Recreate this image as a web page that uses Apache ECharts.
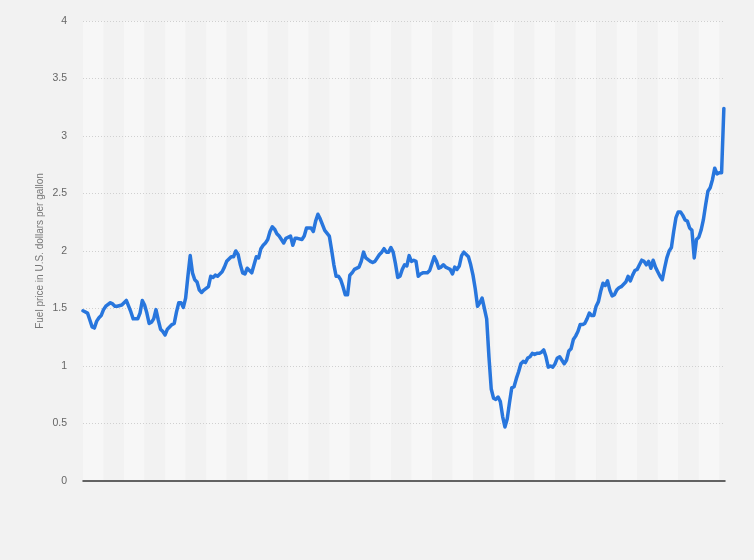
<!DOCTYPE html>
<html>
<head>
<meta charset="utf-8">
<script src="https://cdn.jsdelivr.net/npm/echarts@6/dist/echarts.min.js"></script>
<style>
html,body{margin:0;padding:0;background:#f2f2f2;}
#chart{width:754px;height:560px;}
</style>
</head>
<body>
<div id="chart"></div>
<script>
// Week index since start of series
const weeks = [0,2,3,4,5,6,7,8,9,10,12,13,14,15,17,18,19,20,21,22,24,25,26,27,28,29,30,31,32,33,34,35,36,37,39,40,41,42,43,44,45,46,47,48,49,50,51,52,53,55,56,57,58,59,60,61,62,63,65,66,67,68,69,70,71,72,73,74,75,76,77,78,79,80,81,82,83,84,85,86,87,88,89,91,92,93,94,96,97,98,99,100,101,102,103,104,105,106,108,109,110,111,112,113,114,115,116,117,118,119,121,122,123,124,126,127,128,130,131,132,133,134,135,136,137,138,139,140,141,142,143,144,145,146,147,148,149,151,152,153,154,155,156,157,158,159,160,161,162,163,164,165,166,167,169,170,171,172,173,174,175,176,177,178,179,180,181,182,183,184,185,186,187,188,189,190,191,192,193,194,195,196,197,198,199,200,201,202,203,204,205,206,207,208,209,210,211,212,213,214,215,216,217,218,219,220,221,222,223,224,225,226,227,228,229,230,231,232,233,234,235,236,238,239,240,241,242,243,244,245,246,247,248,249,250,251,252,253,254,255,256,257,258,259,260,261,262,263,264,265,266,267,268,269,270,271,272,273,274,275,276,277,278,279,280,281];
// Fuel price in U.S. dollars per gallon
const prices = [1.48,1.46,1.40,1.34,1.33,1.39,1.42,1.44,1.49,1.52,1.55,1.54,1.52,1.52,1.53,1.55,1.57,1.52,1.47,1.41,1.41,1.46,1.57,1.53,1.46,1.37,1.38,1.41,1.49,1.40,1.32,1.30,1.27,1.32,1.36,1.37,1.47,1.55,1.55,1.51,1.59,1.78,1.96,1.81,1.75,1.73,1.66,1.64,1.66,1.69,1.78,1.77,1.79,1.78,1.80,1.82,1.86,1.91,1.95,1.95,2.00,1.97,1.88,1.81,1.80,1.85,1.83,1.81,1.88,1.95,1.94,2.02,2.05,2.07,2.10,2.17,2.21,2.19,2.15,2.13,2.10,2.07,2.11,2.13,2.05,2.11,2.11,2.10,2.13,2.20,2.20,2.20,2.17,2.26,2.32,2.28,2.23,2.18,2.13,2.01,1.88,1.78,1.78,1.75,1.69,1.62,1.62,1.79,1.81,1.84,1.86,1.91,1.99,1.94,1.91,1.90,1.91,1.97,1.99,2.02,1.99,1.99,2.03,1.99,1.89,1.77,1.78,1.84,1.88,1.87,1.96,1.91,1.92,1.91,1.78,1.80,1.81,1.81,1.83,1.89,1.95,1.91,1.85,1.86,1.88,1.86,1.85,1.84,1.80,1.86,1.84,1.87,1.96,1.99,1.95,1.88,1.79,1.67,1.52,1.55,1.59,1.50,1.41,1.08,0.80,0.72,0.71,0.73,0.69,0.56,0.47,0.54,0.68,0.81,0.82,0.89,0.95,1.02,1.04,1.03,1.07,1.08,1.11,1.10,1.11,1.11,1.12,1.14,1.08,0.99,1.00,0.99,1.02,1.07,1.08,1.05,1.02,1.05,1.13,1.15,1.23,1.26,1.30,1.36,1.36,1.37,1.41,1.46,1.44,1.44,1.52,1.56,1.65,1.72,1.70,1.74,1.66,1.61,1.62,1.66,1.68,1.69,1.73,1.78,1.74,1.79,1.83,1.84,1.88,1.92,1.91,1.88,1.91,1.85,1.92,1.86,1.82,1.78,1.75,1.85,1.94,2.00,2.03,2.17,2.29,2.34,2.34,2.31,2.27,2.26,2.20,2.18,1.94,2.10,2.12,2.18,2.27,2.40,2.52,2.55,2.62,2.72,2.67,2.68,2.68,3.24];
const yMin = 0, yMax = 4, yStep = 0.5;
const xMin = 0, xMax = 281.5, xBand = 9;
const yAxisTitle = 'Fuel price in U.S. dollars per gallon';

const chart = echarts.init(document.getElementById('chart'), null, {renderer: 'canvas'});
const font = 'Liberation Sans, Arial, sans-serif';
chart.setOption({
  backgroundColor: '#f2f2f2',
  animation: false,
  grid: {left: 83, right: 29, top: 21, bottom: 79, containLabel: false},
  xAxis: {
    type: 'value', min: xMin, max: xMax, interval: xBand, z: 1,
    axisLine: {show: true, onZero: false, lineStyle: {color: '#333', width: 1.5}},
    axisTick: {show: false},
    axisLabel: {show: false},
    splitLine: {show: false},
    splitArea: {show: true, areaStyle: {color: ['#f7f7f7', '#f2f2f2']}}
  },
  yAxis: {
    type: 'value', min: yMin, max: yMax, interval: yStep, z: 3,
    name: yAxisTitle, nameLocation: 'middle', nameGap: 38, nameMoveOverlap: false,
    nameTextStyle: {color: '#777', fontSize: 10, fontFamily: font},
    axisLine: {show: false},
    axisTick: {show: false},
    axisLabel: {color: '#666', fontSize: 10.5, fontFamily: font, margin: 16},
    splitLine: {show: true, showMinLine: false, lineStyle: {color: '#d0d0d0', type: [1, 2], width: 1}}
  },
  series: [{
    type: 'line',
    data: weeks.map((w, i) => [w, prices[i]]),
    showSymbol: false,
    smooth: false,
    lineStyle: {color: '#2876dd', width: 3.5, cap: 'round', join: 'round'},
    z: 5
  }]
});
</script>
</body>
</html>
